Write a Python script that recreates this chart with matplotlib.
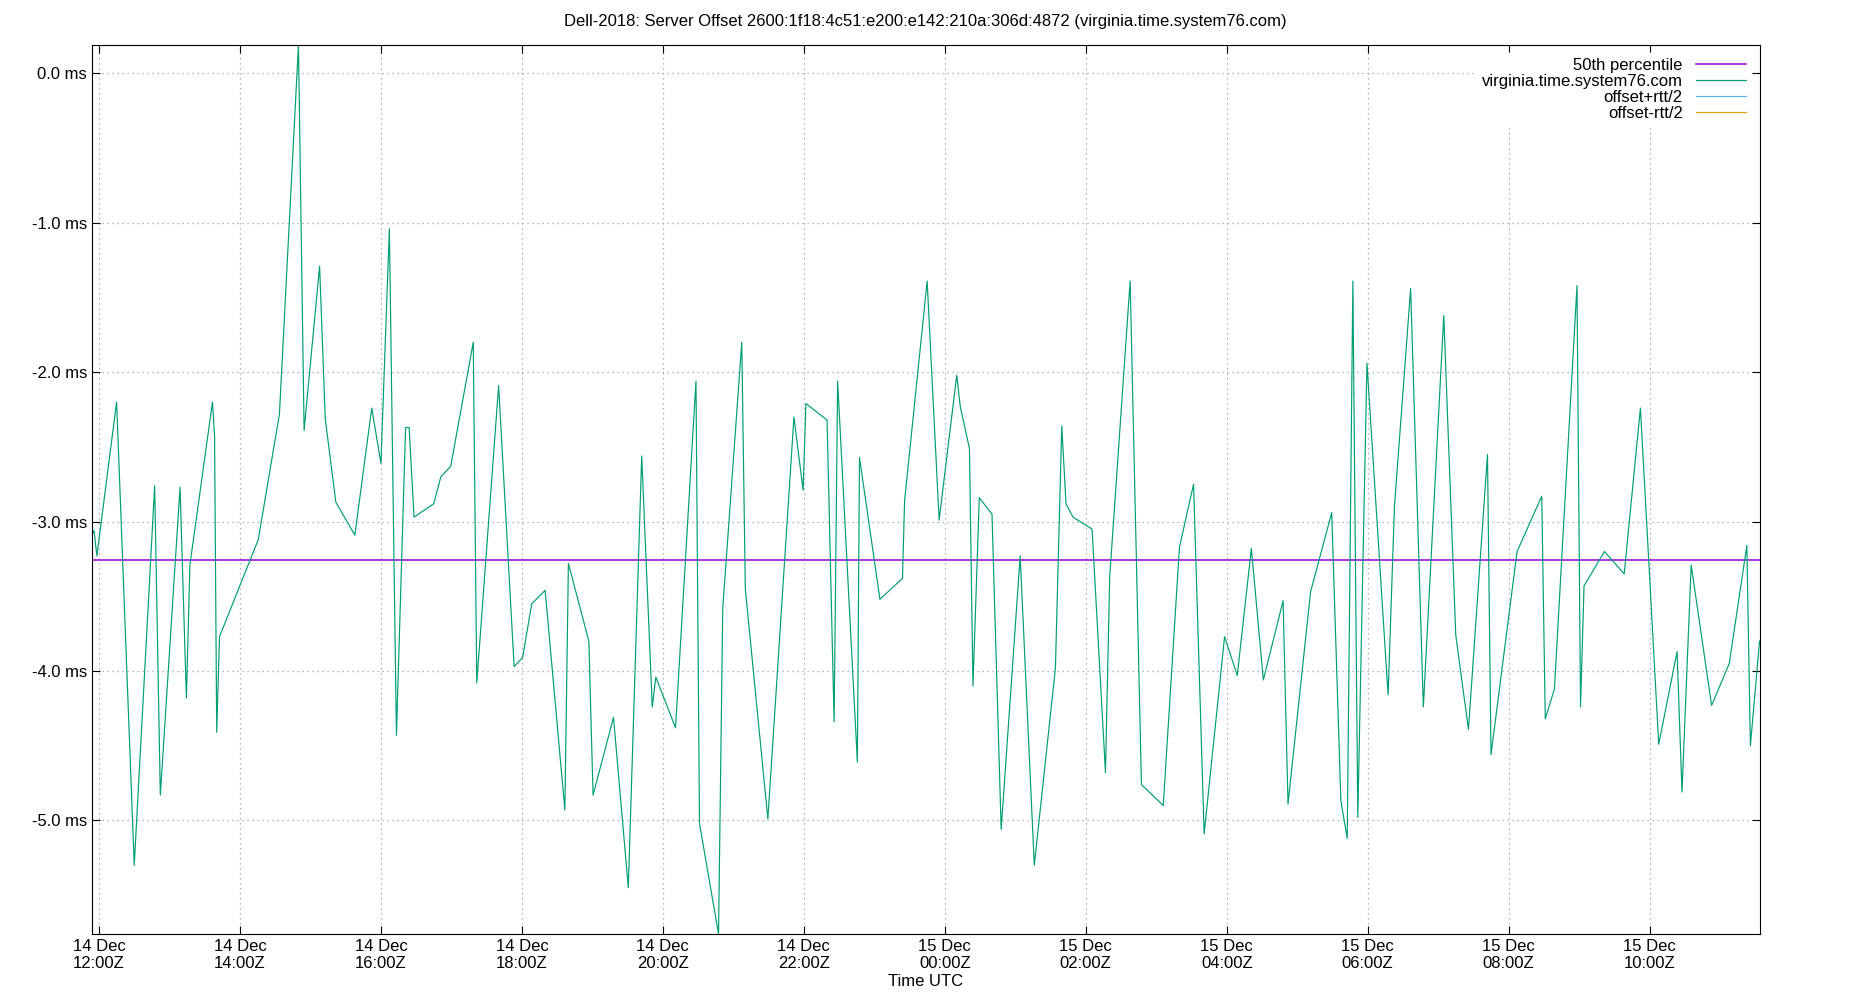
import matplotlib
matplotlib.use("Agg")
import matplotlib.pyplot as plt
from matplotlib.ticker import FuncFormatter, MultipleLocator

# hours since 14 Dec 00:00Z
hours = [11.90, 11.93, 11.97, 12.25, 12.50, 12.79, 12.87, 13.15, 13.24, 13.29,
         13.61, 13.64, 13.67, 13.71, 14.26, 14.56, 14.83, 14.91, 15.13, 15.21,
         15.36, 15.63, 15.87, 16.00, 16.12, 16.22, 16.35, 16.40, 16.47, 16.75,
         16.85, 16.99, 17.31, 17.36, 17.67, 17.89, 18.01, 18.14, 18.33, 18.61,
         18.66, 18.95, 19.01, 19.30, 19.51, 19.70, 19.85, 19.90, 20.18, 20.47,
         20.52, 20.79, 20.85, 21.12, 21.17, 21.49, 21.86, 21.99, 22.03, 22.33,
         22.43, 22.48, 22.76, 22.79, 23.08, 23.40, 23.43, 23.75, 23.92, 24.17,
         24.22, 24.35, 24.40, 24.49, 24.67, 24.80, 25.07, 25.27, 25.57, 25.66,
         25.72, 25.82, 26.09, 26.28, 26.34, 26.63, 26.79, 27.10, 27.33, 27.53,
         27.68, 27.97, 28.15, 28.35, 28.52, 28.80, 28.87, 29.19, 29.49, 29.62,
         29.71, 29.79, 29.86, 29.99, 30.29, 30.38, 30.61, 30.79, 31.08, 31.25,
         31.43, 31.70, 31.75, 32.12, 32.47, 32.52, 32.65, 32.97, 33.02, 33.07,
         33.36, 33.64, 33.87, 34.13, 34.39, 34.46, 34.59, 34.88, 35.13, 35.38,
         35.43, 35.56]
offset_ms = [-3.09, -3.06, -3.23, -2.20, -5.30, -2.76, -4.83, -2.77, -4.18, -3.29,
             -2.20, -2.43, -4.41, -3.77, -3.12, -2.28, 0.19, -2.39, -1.29, -2.31,
             -2.87, -3.09, -2.24, -2.61, -1.04, -4.43, -2.37, -2.37, -2.97, -2.88,
             -2.70, -2.63, -1.80, -4.08, -2.09, -3.97, -3.91, -3.55, -3.46, -4.93,
             -3.28, -3.80, -4.83, -4.31, -5.45, -2.56, -4.24, -4.04, -4.38, -2.06,
             -5.02, -5.76, -3.58, -1.80, -3.45, -4.99, -2.30, -2.79, -2.21, -2.32,
             -4.34, -2.06, -4.61, -2.57, -3.52, -3.38, -2.86, -1.39, -2.99, -2.02,
             -2.23, -2.51, -4.10, -2.84, -2.95, -5.06, -3.23, -5.30, -3.98, -2.36,
             -2.88, -2.97, -3.05, -4.68, -3.37, -1.39, -4.76, -4.90, -3.17, -2.75,
             -5.09, -3.77, -4.03, -3.18, -4.06, -3.53, -4.89, -3.47, -2.94, -4.87,
             -5.12, -1.39, -4.98, -1.94, -4.16, -2.90, -1.44, -4.24, -1.62, -3.76,
             -4.39, -2.55, -4.56, -3.20, -2.83, -4.32, -4.12, -1.42, -4.24, -3.43,
             -3.20, -3.35, -2.24, -4.49, -3.87, -4.81, -3.29, -4.23, -3.95, -3.16,
             -4.50, -3.80]
p50 = -3.26

plt.rcParams['font.family'] = ['Liberation Sans', 'DejaVu Sans']
plt.rcParams['font.size'] = 12

fig = plt.figure(figsize=(18.5, 10), dpi=100)
ax = fig.add_axes([0.0497, 0.066, 0.9014, 0.889])

ax.axhline(p50, color='#9400d3', lw=1.1, label='50th percentile')
ax.plot(hours, offset_ms, color='#009e73', lw=0.85, label='virginia.time.system76.com')
ax.plot([], [], color='#56b4e9', lw=0.85, label='offset+rtt/2')
ax.plot([], [], color='#e69f00', lw=0.85, label='offset-rtt/2')

ax.set_xlim(11.90, 35.56)
ax.set_ylim(-5.76, 0.19)
ax.xaxis.set_major_locator(MultipleLocator(2))
ax.yaxis.set_major_locator(MultipleLocator(1))


def fmt_x(v, pos):
    day = 14 + int(v // 24)
    return f"{day} Dec\n{int(v % 24):02d}:00Z"


ax.xaxis.set_major_formatter(FuncFormatter(fmt_x))
ax.yaxis.set_major_formatter(FuncFormatter(lambda v, p: f"{v:.1f} ms"))
ax.tick_params(direction='in', top=True, right=True, length=6)
for lab in ax.get_xticklabels():
    lab.set_horizontalalignment('center')
ax.grid(True, color='#a0a0a0', ls=(0, (1, 3)), lw=0.9)

ax.set_xlabel('Time UTC', labelpad=2)
ax.set_title('Dell-2018: Server Offset 2600:1f18:4c51:e200:e142:210a:306d:4872 (virginia.time.system76.com)',
             fontsize=12, pad=14)
leg = ax.legend(loc='upper right', markerfirst=False, frameon=True, framealpha=1,
                edgecolor='white', handlelength=3, labelspacing=0.05, borderpad=0.3)
for t in leg.get_texts():
    t.set_ha('right')

fig.savefig('out.png', dpi=100)
